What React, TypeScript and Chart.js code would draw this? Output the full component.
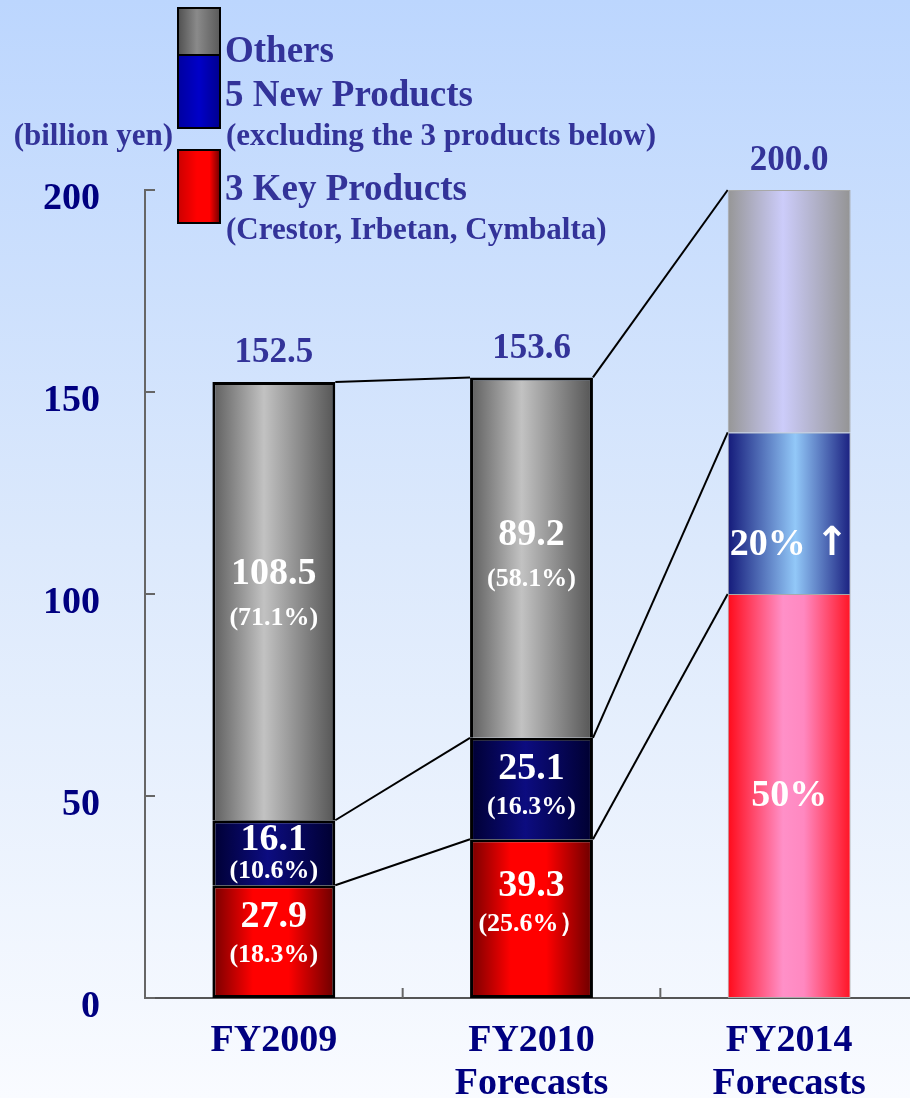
import React, { useEffect, useRef } from "react";
import { Chart, registerables } from "chart.js";

Chart.register(...registerables);

// ---------- data ----------
const categories = [["FY2009"], ["FY2010", "Forecasts"], ["FY2014", "Forecasts"]];
const keyProducts = [27.9, 39.3, 100];
const newProducts = [16.1, 25.1, 40];
const others = [108.5, 89.2, 60];
const totalLabels = ["152.5", "153.6", "200.0"];
const keyLabels = [["27.9", "(18.3%)"], ["39.3", "(25.6%\uFF09"], ["50%"]];
const newLabels = [["16.1", "(10.6%)"], ["25.1", "(16.3%)"], ["20% \u2191"]];
const otherLabels = [["108.5", "(71.1%)"], ["89.2", "(58.1%)"], [""]];
const yTickValues = [0, 50, 100, 150, 200];
const unitLabel = "(billion yen)";
const legendNames = ["Others", "5 New Products", "3 Key Products"];
const legendNotes = ["", "(excluding the 3 products below)", "(Crestor, Irbetan, Cymbalta)"];

// ---------- styles ----------
const FONT = "'Liberation Serif', 'Times New Roman', serif";
const ARROW_FONT = "'DejaVu Sans', sans-serif";
const BAR_PCT = 0.477;
const TEXT_BLUE = "#333399";
const AXIS_NAVY = "#000080";

const actualStops = {
  key: [[0, "#760000"], [0.33, "#ff0000"], [0.62, "#ff0000"], [1, "#6a0000"]],
  new: [[0, "#000033"], [0.45, "#0c0c80"], [1, "#000030"]],
  other: [[0, "#5e5e5e"], [0.42, "#c2c2c2"], [1, "#555555"]],
};
const targetStops = {
  key: [[0, "#ff0a1a"], [0.45, "#ff90c8"], [0.62, "#ff88c0"], [1, "#ff1424"]],
  new: [[0, "#141a7a"], [0.55, "#92c8f8"], [1, "#1a2080"]],
  other: [[0, "#969696"], [0.45, "#ccccfa"], [1, "#949494"]],
};

const labelNudge = {
  key: [-5, -13, 0],
  new: [3, 0, 32],
  other: [-5, 0, 0],
};

function makeGradient(kind: "key" | "new" | "other") {
  return (c: any) => {
    const chart = c.chart;
    const xs = chart.scales && chart.scales.x;
    const idx = c.dataIndex;
    const isTarget = idx === categories.length - 1;
    const stops = (isTarget ? targetStops : actualStops)[kind];
    if (!xs || !chart.chartArea || idx === undefined) return stops[1][1];
    const cx = xs.getPixelForValue(idx);
    const w = ((chart.chartArea.right - chart.chartArea.left) / categories.length) * BAR_PCT;
    const g = chart.ctx.createLinearGradient(cx - w / 2, 0, cx + w / 2, 0);
    stops.forEach(([o, col]: any) => g.addColorStop(o, col));
    return g;
  };
}

const borderColorFn = (c: any) => (c.dataIndex === categories.length - 1 ? "#a8a8a8" : "#000000");
const borderWidthFn = (c: any) => (c.dataIndex === categories.length - 1 ? 1 : 3);

function drawMain(ctx: CanvasRenderingContext2D, text: string, x: number, y: number) {
  const arrowIdx = text.indexOf("\u2191");
  ctx.font = `bold 38px ${FONT}`;
  if (arrowIdx < 0) {
    ctx.textAlign = "center";
    ctx.fillText(text, x, y);
    return;
  }
  const head = text.slice(0, arrowIdx);
  const hw = ctx.measureText(head).width;
  ctx.font = `bold 40px ${ARROW_FONT}`;
  const aw = ctx.measureText("\u2191").width;
  const start = x - (hw + aw) / 2;
  ctx.textAlign = "left";
  ctx.font = `bold 38px ${FONT}`;
  ctx.fillText(head, start, y);
  ctx.font = `bold 40px ${ARROW_FONT}`;
  ctx.fillText("\u2191", start + hw, y - 1);
  ctx.textAlign = "center";
}

const decorPlugin = {
  id: "decor",
  beforeDatasetsDraw(chart: any) {
    const ctx = chart.ctx;
    ctx.save();
    ctx.strokeStyle = "#000";
    ctx.lineWidth = 2;
    for (let d = 0; d < chart.data.datasets.length; d++) {
      const meta = chart.getDatasetMeta(d);
      for (let i = 0; i < meta.data.length - 1; i++) {
        const a = meta.data[i];
        const b = meta.data[i + 1];
        ctx.beginPath();
        ctx.moveTo(a.x + a.width / 2, a.y);
        ctx.lineTo(b.x - b.width / 2, b.y);
        ctx.stroke();
      }
    }
    ctx.restore();
  },
  afterDatasetsDraw(chart: any) {
    const ctx = chart.ctx;
    const sets = [
      { labels: keyLabels, nudge: labelNudge.key },
      { labels: newLabels, nudge: labelNudge.new },
      { labels: otherLabels, nudge: labelNudge.other },
    ];
    ctx.save();
    ctx.textAlign = "center";
    ctx.textBaseline = "middle";
    ctx.fillStyle = "#ffffff";
    sets.forEach((s, d) => {
      const meta = chart.getDatasetMeta(d);
      meta.data.forEach((el: any, i: number) => {
        const lines = s.labels[i];
        const h = Math.abs(el.base - el.y);
        const cy = (el.y + el.base) / 2 + s.nudge[i];
        if (lines.length === 1) {
          drawMain(ctx, lines[0], el.x, cy);
        } else {
          const sp = h > 200 ? 44 : h > 80 ? 38 : 32;
          drawMain(ctx, lines[0], el.x, cy - sp / 2);
          ctx.font = `bold 26px ${FONT}`;
          ctx.fillText(lines[1], el.x, cy + sp / 2);
        }
      });
    });
    // totals
    const top = chart.getDatasetMeta(chart.data.datasets.length - 1);
    ctx.fillStyle = TEXT_BLUE;
    ctx.font = `bold 35px ${FONT}`;
    ctx.textAlign = "center";
    top.data.forEach((el: any, i: number) => {
      ctx.fillText(totalLabels[i], el.x, el.y - 29);
    });
    ctx.restore();
  },
  afterDraw(chart: any) {
    const ctx = chart.ctx;
    const area = chart.chartArea;
    const ys = chart.scales.y;
    const xs = chart.scales.x;
    ctx.save();
    // inner tick marks
    ctx.strokeStyle = "#666666";
    ctx.lineWidth = 2;
    yTickValues.forEach((v) => {
      const py = ys.getPixelForValue(v);
      ctx.beginPath();
      ctx.moveTo(area.left, py);
      ctx.lineTo(area.left + 10, py);
      ctx.stroke();
    });
    for (let i = 0; i < categories.length - 1; i++) {
      const px = (xs.getPixelForValue(i) + xs.getPixelForValue(i + 1)) / 2;
      ctx.beginPath();
      ctx.moveTo(px, area.bottom);
      ctx.lineTo(px, area.bottom - 10);
      ctx.stroke();
    }
    // legend boxes
    const bx = 178, bw = 42;
    const boxes = [
      { y0: 8, y1: 55, stops: [[0, "#505050"], [0.45, "#8a8a8a"], [1, "#5a5a5a"]] },
      { y0: 55, y1: 128, stops: [[0, "#0000a0"], [0.5, "#0000c8"], [1, "#000090"]] },
      { y0: 150, y1: 223, stops: [[0, "#cc0000"], [0.45, "#ff0000"], [0.75, "#ff0000"], [1, "#700000"]] },
    ];
    boxes.forEach((b) => {
      const g = ctx.createLinearGradient(bx, 0, bx + bw, 0);
      b.stops.forEach(([o, c]: any) => g.addColorStop(o, c));
      ctx.fillStyle = g;
      ctx.fillRect(bx, b.y0, bw, b.y1 - b.y0);
      ctx.strokeStyle = "#000";
      ctx.lineWidth = 2;
      ctx.strokeRect(bx, b.y0, bw, b.y1 - b.y0);
    });
    // legend text
    ctx.fillStyle = TEXT_BLUE;
    ctx.textAlign = "left";
    ctx.textBaseline = "middle";
    ctx.font = `bold 37px ${FONT}`;
    ctx.fillText(legendNames[0], 225, 52);
    ctx.fillText(legendNames[1], 225, 96);
    ctx.fillText(legendNames[2], 225, 190);
    ctx.font = `bold 31px ${FONT}`;
    ctx.fillText(legendNotes[1], 226, 137);
    ctx.fillText(legendNotes[2], 226, 231);
    ctx.textAlign = "right";
    ctx.fillText(unitLabel, 173, 137);
    ctx.restore();
  },
};

export default function App() {
  const ref = useRef<HTMLCanvasElement | null>(null);
  useEffect(() => {
    if (!ref.current) return;
    const chart = new Chart(ref.current, {
      type: "bar",
      data: {
        labels: categories as any,
        datasets: [
          {
            label: legendNames[2],
            data: keyProducts,
            backgroundColor: makeGradient("key"),
            borderColor: borderColorFn,
            borderWidth: borderWidthFn,
            borderSkipped: false,
          },
          {
            label: legendNames[1],
            data: newProducts,
            backgroundColor: makeGradient("new"),
            borderColor: borderColorFn,
            borderWidth: borderWidthFn,
          },
          {
            label: legendNames[0],
            data: others,
            backgroundColor: makeGradient("other"),
            borderColor: borderColorFn,
            borderWidth: borderWidthFn,
          },
        ] as any,
      },
      options: {
        responsive: false,
        animation: false,
        devicePixelRatio: 1,
        layout: { padding: { top: 190, right: 12, left: 0, bottom: 0 } },
        datasets: { bar: { barPercentage: BAR_PCT, categoryPercentage: 1 } },
        plugins: { legend: { display: false }, tooltip: { enabled: false }, title: { display: false } },
        scales: {
          x: {
            stacked: true,
            grid: { display: false, drawTicks: false },
            border: { display: true, color: "#555555", width: 2 },
            ticks: {
              color: AXIS_NAVY,
              font: { family: FONT, size: 38, weight: "bold", lineHeight: 1.13 },
              padding: 22,
              maxRotation: 0,
              autoSkip: false,
            },
            afterFit: (s: any) => {
              s.height = 100;
            },
          },
          y: {
            stacked: true,
            min: 0,
            max: 200,
            grid: { display: false, drawTicks: false },
            border: { display: true, color: "#666666", width: 2 },
            ticks: {
              stepSize: 50,
              color: AXIS_NAVY,
              font: { family: FONT, size: 38, weight: "bold" },
              padding: 45,
              labelOffset: 9,
            },
            afterFit: (s: any) => {
              s.width = 145;
            },
          },
        },
      } as any,
      plugins: [decorPlugin],
    });
    return () => chart.destroy();
  }, []);

  return (
    <div
      style={{
        position: "absolute",
        left: 0,
        top: 0,
        width: 910,
        height: 1098,
        overflow: "hidden",
        background: "linear-gradient(to bottom, #bcd6fe 0%, #dce9fc 50%, #f9fbff 100%)",
      }}
    >
      <canvas ref={ref} width={930} height={1098} style={{ display: "block", width: 930, height: 1098 }} />
    </div>
  );
}
